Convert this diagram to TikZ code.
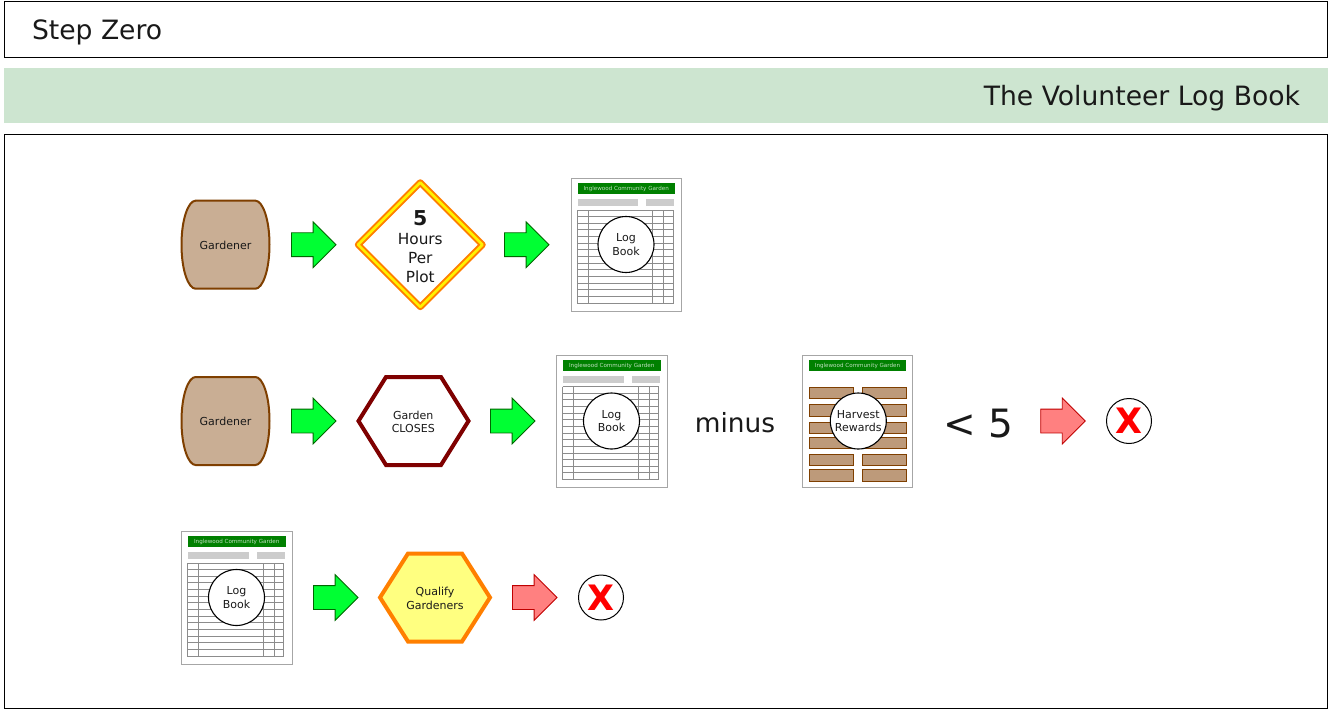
\documentclass[tikz,border=0pt]{standalone}
\usepackage{fontspec}
\setmainfont{DejaVu Sans}
\usetikzlibrary{shapes.arrows}
\definecolor{bandgreen}{HTML}{CDE5D0}
\definecolor{brownline}{HTML}{7F3F00}
\definecolor{tanfill}{HTML}{C9AE94}
\definecolor{barfill}{HTML}{BD9A7A}
\definecolor{headgreen}{HTML}{008000}
\definecolor{arrowgreen}{HTML}{00FF33}
\definecolor{arrowred}{HTML}{FF8080}
\definecolor{darkred}{HTML}{7F0000}
\definecolor{sheetgray}{HTML}{A6A6A6}
\definecolor{rowgray}{HTML}{8C8C8C}
\definecolor{bargray}{HTML}{CCCCCC}
\definecolor{orangeline}{HTML}{FF7F00}
\definecolor{softyellow}{HTML}{FFFF80}
\newcommand{\fsz}[2]{\fontsize{#1}{#2}\selectfont}
\newcommand{\bodystrut}{\rule{0pt}{23pt}}
\tikzset{
  x=1pt,y=-1pt,
  panel/.style={draw=black,line width=0.9pt,fill=white},
  txt/.style={inner sep=0pt,outer sep=0pt,align=center,text=black!90},
  small/.style={txt,font=\fsz{11}{13.5}},
  blockarrow/.style={single arrow,inner sep=0pt,outer sep=0pt,anchor=tail,
    minimum height=44.5pt,minimum width=45pt,single arrow head extend=11pt,
    single arrow head indent=0pt,line width=0.8pt},
  goarrow/.style={blockarrow,draw=headgreen!80!black,fill=arrowgreen},
  stoparrow/.style={blockarrow,draw=red!75!black,fill=arrowred},
  xmark/.style={circle,draw=black,fill=white,line width=1pt,minimum size=45pt,inner sep=0pt,
    text=red,font=\fsz{35}{35}\bfseries},
  sheet/.style={draw=sheetgray,fill=white,line width=1pt},
  sheetcircle/.style={circle,draw=black,fill=white,line width=1.1pt,minimum size=56pt,inner sep=0pt,
    align=center,text=black!90,font=\fsz{11}{13.5}},
  sheethead/.style={fill=headgreen},
  sheettitle/.style={inner sep=0pt,text=white!75!headgreen,font=\fsz{5.6}{6}},
  tablerule/.style={draw=rowgray,line width=1pt},
  rewardbar/.style={draw=brownline,fill=barfill,line width=1pt},
}
% barrel shape: #1 name, #2 centre x, #3 centre y
\newcommand{\barrel}[3]{
  \begin{scope}[shift={(#2,#3)}]
    \draw[draw=brownline,fill=tanfill,line width=2pt]
      (-30,-44) -- (30,-44)
      .. controls (37,-44) and (44,-26) .. (44,0)
      .. controls (44,26) and (37,44) .. (30,44)
      -- (-30,44)
      .. controls (-37,44) and (-44,26) .. (-44,0)
      .. controls (-44,-26) and (-37,-44) .. (-30,-44) -- cycle;
    \node[small] (#1) at (0,0.5) {Gardener};
  \end{scope}}
\newcommand{\sheetframe}[1]{
  \draw[sheet] (0,0) rectangle (110.5,132.5);
  \fill[sheethead] (6.5,4.5) rectangle (104,15.5);
  \node[sheettitle] (#1title) at (55.2,10.5) {Inglewood Community Garden};
}
% log book sheet: #1 name, #2 x, #3 y
\newcommand{\logbook}[3]{
  \begin{scope}[shift={(#2,#3)}]
    \sheetframe{#1}
    \fill[bargray] (6.5,20.5) rectangle (67,27.5);
    \fill[bargray] (75,20.5) rectangle (103,27.5);
    \foreach \k in {0,...,14} {\draw[tablerule] (6,31.5+6.65*\k) -- (102,31.5+6.65*\k);}
    \foreach \vx in {6,17,81.7,92.7,102} {\draw[tablerule] (\vx,31.5) -- (\vx,125.2);}
    \node[sheetcircle] (#1) at (55,66) {Log\\Book};
  \end{scope}}
\newcommand{\rewards}[3]{
  \begin{scope}[shift={(#2,#3)}]
    \sheetframe{#1}
    \foreach \ry in {32.3,49.7,67,82.3,99.3,114.7} {
      \draw[rewardbar] (6.7,\ry) rectangle (51.4,\ry+11.5);
      \draw[rewardbar] (59.7,\ry) rectangle (104.4,\ry+11.5);
    }
    \node[sheetcircle] (#1) at (56,66) {Harvest\\Rewards};
  \end{scope}}
\begin{document}
\begin{tikzpicture}
\useasboundingbox (0,0) rectangle (1328,709);
% header
\draw[panel] (4,1) rectangle (1327.6,57);
\fill[bandgreen] (4,68) rectangle (1328,123);
\draw[panel] (4,134) rectangle (1327.6,708);
\node[txt,anchor=base west,font=\fsz{26.6}{30}] (stepzero) at (32,40) {Step Zero};
\node[txt,anchor=base east,font=\fsz{26.6}{30}] (voltitle) at (1300,105) {The Volunteer Log Book};
% row 1
\barrel{gardenerA}{225.5}{244.7}
\node[goarrow] (arrowA1) at (291.5,244.7) {\bodystrut};
\draw[draw=orangeline,line width=6.5pt,line join=round,fill=white]
  (420.3,182.5) -- (482.5,244.7) -- (420.3,306.9) -- (358.1,244.7) -- cycle;
\draw[draw=yellow,line width=2.6pt,line join=round]
  (420.3,182.5) -- (482.5,244.7) -- (420.3,306.9) -- (358.1,244.7) -- cycle;
\node[txt,font=\fsz{15.3}{19}] (hours) at (420.3,247) {{\fsz{20.5}{19}\bfseries 5}\\Hours\\Per\\Plot};
\node[goarrow] (arrowA2) at (504.5,244.7) {\bodystrut};
\logbook{logA}{571}{178.5}
% row 2
\barrel{gardenerB}{225.5}{421}
\node[goarrow] (arrowB1) at (291.5,421) {\bodystrut};
\draw[draw=darkred,line width=4pt,line join=miter,fill=white]
  (386,377) -- (441,377) -- (468.5,421) -- (441,465) -- (386,465) -- (358.5,421) -- cycle;
\node[small] (closes) at (413.3,422) {Garden\\CLOSES};
\node[goarrow] (arrowB2) at (490.5,421) {\bodystrut};
\logbook{logB}{556.5}{355}
\node[txt,anchor=base,font=\fsz{26.4}{30}] (minus) at (735,432) {minus};
\rewards{harvest}{802.3}{355}
\node[txt,anchor=base west,font=\fsz{39}{40}] (lessfive) at (943.5,437) {< 5};
\node[stoparrow] (arrowB3) at (1040.7,421) {\bodystrut};
\node[xmark] (xB) at (1129,421) {X};
% row 3
\logbook{logC}{181.5}{531.5}
\node[goarrow] (arrowC1) at (313.5,597.5) {\bodystrut};
\draw[draw=orangeline,line width=4pt,line join=miter,fill=softyellow]
  (408,553.5) -- (462,553.5) -- (490,597.5) -- (462,641.5) -- (408,641.5) -- (380,597.5) -- cycle;
\node[small] (qualify) at (435,598.5) {Qualify\\Gardeners};
\node[stoparrow] (arrowC2) at (512.5,597.5) {\bodystrut};
\node[xmark] (xC) at (601,597.5) {X};
\end{tikzpicture}
\end{document}
